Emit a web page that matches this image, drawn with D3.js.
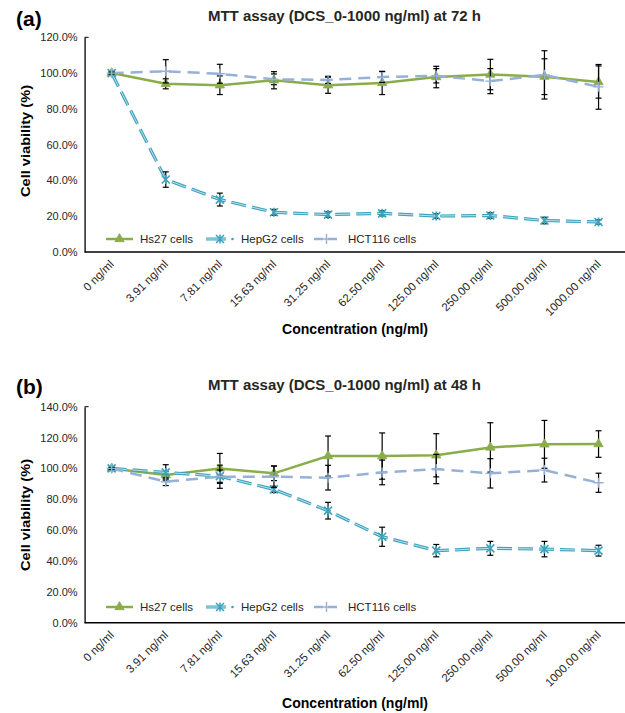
<!DOCTYPE html>
<html>
<head>
<meta charset="utf-8">
<script src="https://cdn.jsdelivr.net/npm/d3@7"></script>
<style>
  html, body { margin: 0; padding: 0; background: #fff; }
  svg { display: block; font-family: "Liberation Sans", Arial, sans-serif; }
</style>
</head>
<body>
<svg id="chart" width="625" height="713"></svg>
<script>
// ---------- DATA ----------
const categories = ["0 ng/ml", "3.91 ng/ml", "7.81 ng/ml", "15.63 ng/ml", "31.25 ng/ml",
  "62.50 ng/ml", "125.00 ng/ml", "250.00 ng/ml", "500.00 ng/ml", "1000.00 ng/ml"];
const seriesNames = ["Hs27 cells", "HepG2 cells", "HCT116 cells"];

// 72 h
const hs27_72 = [100, 94, 93.2, 96, 93.2, 94.5, 97.8, 99.2, 98, 95];
const hs27_72_err = [0.8, 2.8, 5.2, 4.8, 4.5, 6.5, 6, 8.5, 10, 9];
const hepg2_72 = [100, 40.5, 29.3, 22.2, 20.9, 21.6, 20.1, 20.4, 17.6, 16.8];
const hepg2_72_err = [0.5, 4.3, 3.6, 1.6, 1.5, 1.4, 1.3, 1.5, 1.8, 1.2];
const hct116_72 = [100, 101, 99.6, 96.5, 96.2, 97.8, 98.5, 95.5, 99, 92.3];
const hct116_72_err = [0.5, 6.5, 5.3, 3, 2, 3, 4, 7, 13.5, 12.5];
const yTicks72 = [0, 20, 40, 60, 80, 100, 120];

// 48 h
const hs27_48 = [100, 95.7, 100, 96.8, 108, 108, 108.5, 113.6, 115.6, 115.8];
const hs27_48_err = [0.8, 2.5, 9.7, 4.7, 13, 15, 14, 16, 15.5, 8.6];
const hepg2_48 = [100, 97.4, 95, 86.4, 72.6, 55.7, 46.7, 48.2, 47.7, 46.7];
const hepg2_48_err = [0.8, 5, 4, 2, 5.4, 6.2, 4, 4.5, 5, 3.5];
const hct116_48 = [100, 91.4, 94.6, 94.6, 94, 97.4, 99.6, 96.8, 98.9, 90.7];
const hct116_48_err = [0.5, 2.5, 7.5, 7, 8, 8, 9.5, 9.5, 7.7, 6.2];
const yTicks48 = [0, 20, 40, 60, 80, 100, 120, 140];

// ---------- STYLE ----------
const GREEN = "#8aad4a";
const TEAL = "#3fa3bd";
const TEAL_LIGHT = "#b9e2ee";
const BLUE = "#95b1d6";
const TEXT = "#262626";

const svg = d3.select("#chart");

function drawPanel(cfg) {
  const g = svg.append("g");
  const x = d3.scalePoint().domain(categories).range([84.6, 625.6]).padding(0.5);
  const y = d3.scaleLinear().domain([0, cfg.yMax]).range([cfg.yBottom, cfg.yTop]);

  // Y axis
  const yAxis = d3.axisLeft(y).tickValues(cfg.yTicks).tickSize(0).tickPadding(7)
    .tickFormat(d => d.toFixed(1) + "%");
  const ya = g.append("g").attr("transform", `translate(84.6,0)`).call(yAxis);
  ya.select(".domain").attr("stroke", "#000").attr("stroke-width", 1.3);
  ya.selectAll("text").attr("font-size", 11).attr("fill", TEXT);
  g.append("line").attr("x1", 84.6).attr("x2", 88.6).attr("y1", y(cfg.yMax)).attr("y2", y(cfg.yMax))
    .attr("stroke", "#000").attr("stroke-width", 1);

  // X axis
  const xAxis = d3.axisBottom(x).tickSize(0).tickSizeOuter(0);
  const xa = g.append("g").attr("transform", `translate(0,${cfg.yBottom})`).call(xAxis);
  xa.select(".domain").attr("stroke", "#000").attr("stroke-width", 1.5).attr("d", `M84.6,0H625`);
  xa.selectAll("text")
    .attr("font-size", 11.5).attr("fill", TEXT)
    .attr("text-anchor", "end")
    .attr("dy", 0).attr("y", 0)
    .attr("transform", "translate(2.5,13) rotate(-45)");

  // Series
  const series = [
    { name: seriesNames[0], v: cfg.hs27, e: cfg.hs27e, type: "hs27" },
    { name: seriesNames[1], v: cfg.hepg2, e: cfg.hepg2e, type: "hepg2" },
    { name: seriesNames[2], v: cfg.hct, e: cfg.hcte, type: "hct" }
  ];
  const line = d3.line().x((d, i) => x(categories[i])).y(d => y(d));

  series.forEach(s => {
    const sg = g.append("g");
    if (s.type === "hs27") {
      sg.append("path").attr("d", line(s.v)).attr("fill", "none").attr("stroke", GREEN).attr("stroke-width", 2.5);
    } else if (s.type === "hepg2") {
      sg.append("path").attr("d", line(s.v)).attr("fill", "none").attr("stroke", TEAL)
        .attr("stroke-width", 3.2).attr("stroke-dasharray", "15,6");
      sg.append("path").attr("d", line(s.v)).attr("fill", "none").attr("stroke", TEAL_LIGHT)
        .attr("stroke-width", 1).attr("stroke-dasharray", "15,6");
    } else {
      sg.append("path").attr("d", line(s.v)).attr("fill", "none").attr("stroke", BLUE)
        .attr("stroke-width", 2.5).attr("stroke-dasharray", "12,7");
    }
    // error bars
    s.v.forEach((v, i) => {
      const cx = x(categories[i]);
      const y1 = y(v + s.e[i]), y2 = y(v - s.e[i]);
      sg.append("line").attr("x1", cx).attr("x2", cx).attr("y1", y1).attr("y2", y2)
        .attr("stroke", "#000").attr("stroke-width", 1.2);
      [y1, y2].forEach(yy => sg.append("line").attr("x1", cx - 3).attr("x2", cx + 3)
        .attr("y1", yy).attr("y2", yy).attr("stroke", "#000").attr("stroke-width", 1.2));
    });
    // markers
    s.v.forEach((v, i) => drawMarker(sg, s.type, x(categories[i]), y(v)));
  });

  // Legend
  const ly = cfg.legendY;
  const leg = g.append("g");
  // Hs27
  leg.append("line").attr("x1", 106).attr("x2", 133).attr("y1", ly).attr("y2", ly).attr("stroke", GREEN).attr("stroke-width", 2.5);
  drawMarker(leg, "hs27", 119.5, ly);
  leg.append("text").attr("x", 140).attr("y", ly + 4).attr("font-size", 11.5).attr("fill", TEXT).text(seriesNames[0]);
  // HepG2
  leg.append("line").attr("x1", 206).attr("x2", 226).attr("y1", ly).attr("y2", ly).attr("stroke", TEAL).attr("stroke-width", 3);
  leg.append("line").attr("x1", 206).attr("x2", 226).attr("y1", ly).attr("y2", ly).attr("stroke", TEAL_LIGHT).attr("stroke-width", 1);
  drawMarker(leg, "hepg2", 220, ly);
  leg.append("circle").attr("cx", 232.5).attr("cy", ly).attr("r", 1.3).attr("fill", TEAL);
  leg.append("text").attr("x", 241).attr("y", ly + 4).attr("font-size", 11.5).attr("fill", TEXT).text(seriesNames[1]);
  // HCT116
  leg.append("line").attr("x1", 314).attr("x2", 339).attr("y1", ly).attr("y2", ly).attr("stroke", BLUE)
    .attr("stroke-width", 2.5).attr("stroke-dasharray", "9,5");
  drawMarker(leg, "hct", 326.5, ly);
  leg.append("text").attr("x", 348).attr("y", ly + 4).attr("font-size", 11.5).attr("fill", TEXT).text(seriesNames[2]);

  // Titles
  g.append("text").attr("x", 16).attr("y", cfg.panelY).attr("font-size", 21).attr("font-weight", "bold")
    .attr("fill", "#000").text(cfg.panel);
  g.append("text").attr("x", 208).attr("y", cfg.titleY).attr("font-size", 14.5).attr("font-weight", "bold")
    .attr("fill", TEXT).attr("textLength", 273).attr("lengthAdjust", "spacingAndGlyphs").text(cfg.title);
  g.append("text").attr("transform", `translate(30,${cfg.yTitleC}) rotate(-90)`).attr("text-anchor", "middle")
    .attr("font-size", 13.5).attr("font-weight", "bold").attr("fill", "#000")
    .attr("textLength", 112).attr("lengthAdjust", "spacingAndGlyphs").text("Cell viability (%)");
  g.append("text").attr("x", 355).attr("y", cfg.xTitleY).attr("text-anchor", "middle")
    .attr("font-size", 15).attr("font-weight", "bold").attr("fill", "#000")
    .attr("textLength", 146).attr("lengthAdjust", "spacingAndGlyphs").text("Concentration (ng/ml)");
}

function drawMarker(sel, type, cx, cy) {
  if (type === "hs27") {
    sel.append("path").attr("d", d3.symbol(d3.symbolTriangle, 38)())
      .attr("transform", `translate(${cx},${cy})`).attr("fill", GREEN).attr("stroke", GREEN).attr("stroke-width", 0.8);
  } else if (type === "hepg2") {
    const r = 4;
    const p = `M${-r},${-r}L${r},${r}M${-r},${r}L${r},${-r}M0,${-r - 0.5}L0,${r + 0.5}`;
    sel.append("path").attr("d", p).attr("transform", `translate(${cx},${cy})`)
      .attr("stroke", TEAL).attr("stroke-width", 1.6).attr("fill", "none");
  } else {
    const r = 5;
    const p = `M${-r},0L${r},0M0,${-r}L0,${r}`;
    sel.append("path").attr("d", p).attr("transform", `translate(${cx},${cy})`)
      .attr("stroke", BLUE).attr("stroke-width", 1.4).attr("fill", "none");
  }
}

drawPanel({
  panel: "(a)", panelY: 26, title: "MTT assay (DCS_0-1000 ng/ml) at 72 h", titleY: 21,
  yMax: 120, yTicks: yTicks72, yBottom: 252, yTop: 37.3,
  hs27: hs27_72, hs27e: hs27_72_err, hepg2: hepg2_72, hepg2e: hepg2_72_err, hct: hct116_72, hcte: hct116_72_err,
  legendY: 239, yTitleC: 141, xTitleY: 334
});
drawPanel({
  panel: "(b)", panelY: 394, title: "MTT assay (DCS_0-1000 ng/ml) at 48 h", titleY: 390,
  yMax: 140, yTicks: yTicks48, yBottom: 622.7, yTop: 406.7,
  hs27: hs27_48, hs27e: hs27_48_err, hepg2: hepg2_48, hepg2e: hepg2_48_err, hct: hct116_48, hcte: hct116_48_err,
  legendY: 607, yTitleC: 515, xTitleY: 708
});
</script>
</body>
</html>
